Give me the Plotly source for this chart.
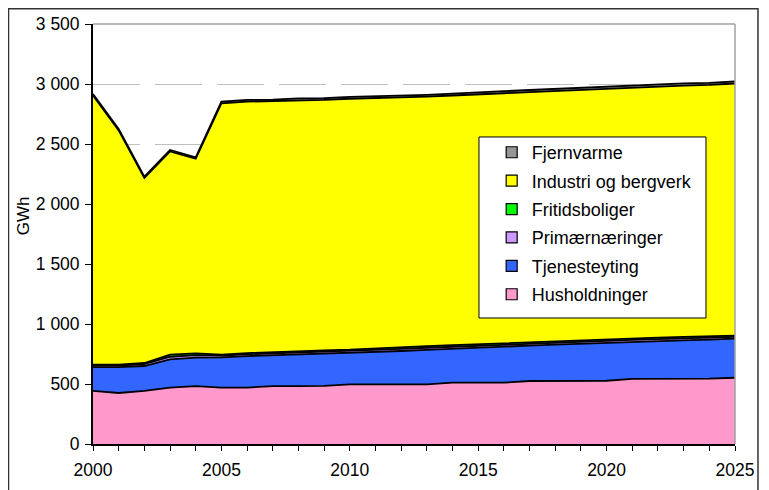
import plotly.graph_objects as go

years = list(range(2000, 2026))

husholdninger = [442, 425, 442, 469, 483, 470, 470, 483, 483, 485, 497, 497, 497,
                 497, 511, 511, 511, 525, 525, 525, 527, 542, 542, 542, 544, 552]
tjenesteyting = [198, 215, 208, 236, 237, 252, 263, 256, 264, 268, 261, 270, 278,
                 288, 284, 292, 301, 295, 303, 311, 318, 310, 316, 322, 326, 326]
primaernaeringer = [14, 14, 15, 22, 20, 14, 15, 16, 16, 16, 16, 17, 17,
                    17, 16, 16, 17, 18, 18, 16, 15, 15, 16, 16, 16, 15]
fritidsboliger = [8, 8, 10, 18, 16, 8, 10, 12, 12, 12, 12, 14, 13,
                  14, 13, 13, 13, 14, 13, 12, 10, 11, 12, 12, 11, 10]
industri = [2243, 1951, 1541, 1693, 1621, 2095, 2095, 2089, 2090, 2086, 2091, 2084, 2084,
            2078, 2080, 2079, 2081, 2081, 2084, 2089, 2093, 2092, 2091, 2095, 2095, 2101]
fjernvarme = [12, 12, 12, 12, 12, 14, 14, 14, 15, 15, 15, 15, 16,
              16, 16, 16, 17, 17, 17, 17, 17, 18, 18, 18, 18, 18]

series = [
    ("Husholdninger", husholdninger, "#FF99CC"),
    ("Tjenesteyting", tjenesteyting, "#3366FF"),
    ("Primærnæringer", primaernaeringer, "#CC99FF"),
    ("Fritidsboliger", fritidsboliger, "#00FF00"),
    ("Industri og bergverk", industri, "#FFFF00"),
    ("Fjernvarme", fjernvarme, "#969696"),
]

y_ticks = [0, 500, 1000, 1500, 2000, 2500, 3000, 3500]

FONT = "Liberation Sans, Arial, sans-serif"

fig = go.Figure()
for name, vals, col in series:
    fig.add_trace(go.Scatter(
        x=years, y=vals, name=name, mode="lines", stackgroup="one",
        line=dict(color="black", width=1.8), fillcolor=col, showlegend=False,
    ))
# legend entries as square swatches (top-most layer listed first)
for name, vals, col in reversed(series):
    fig.add_trace(go.Scatter(
        x=[None], y=[None], name=name, mode="markers",
        marker=dict(symbol="square", size=11, color=col,
                    line=dict(color="black", width=1.2)),
        legendgroup=name, showlegend=True,
    ))

fig.update_layout(
    width=761, height=482,
    margin=dict(l=85, r=34, t=16, b=46, autoexpand=False),
    paper_bgcolor="white", plot_bgcolor="white",
    separators=", ",
    font=dict(family=FONT, size=17.5, color="black"),
    showlegend=True,
    legend=dict(
        traceorder="grouped", x=0.621, y=0.738, xanchor="left", yanchor="top",
        bgcolor="rgba(0,0,0,0)", borderwidth=0,
        font=dict(family=FONT, size=18, color="black"),
        tracegroupgap=2, itemwidth=30,
    ),
    xaxis=dict(
        range=[2000, 2025], dtick=1, tick0=2000, ticklabelstep=5,
        ticks="outside", ticklen=5, tickcolor="black", tickwidth=1,
        showline=True, linecolor="black", linewidth=1.8,
        showgrid=False, zeroline=False, ticklabelstandoff=4, automargin=False,
        tickfont=dict(family=FONT, size=17.5),
    ),
    yaxis=dict(
        range=[0, 3500], tickvals=y_ticks,
        ticks="outside", ticklen=6, tickcolor="black", tickwidth=1,
        showline=True, linecolor="black", linewidth=1.8,
        showgrid=True, gridcolor="#C0C0C0", griddash="47px,15px", gridwidth=1,
        zeroline=False, ticklabelstandoff=2, automargin=False,
        tickformat=",d",
        tickfont=dict(family=FONT, size=17.5),
    ),
    annotations=[
        dict(text="GWh", xref="paper", yref="paper", x=-0.107, y=0.543,
             textangle=-90, showarrow=False, font=dict(family=FONT, size=17),
             xanchor="center", yanchor="middle"),
    ],
    shapes=[
        dict(type="line", xref="paper", yref="paper", x0=0, x1=1, y0=1, y1=1,
             line=dict(color="#A0A0A0", width=1.5)),
        dict(type="line", xref="paper", yref="paper", x0=1, x1=1, y0=0, y1=1,
             line=dict(color="#A0A0A0", width=1.5)),
        dict(type="rect", xref="paper", yref="paper",
             x0=-0.1316, x1=1.0358, y0=-0.14, y1=1.0363,
             line=dict(color="#333333", width=1.5), fillcolor="rgba(0,0,0,0)"),
        dict(type="rect", xref="paper", yref="paper",
             x0=0.6012, x1=0.9548, y0=0.300, y1=0.731,
             line=dict(color="black", width=1), fillcolor="white", layer="above"),
    ],
)

fig.write_html("out.html")
